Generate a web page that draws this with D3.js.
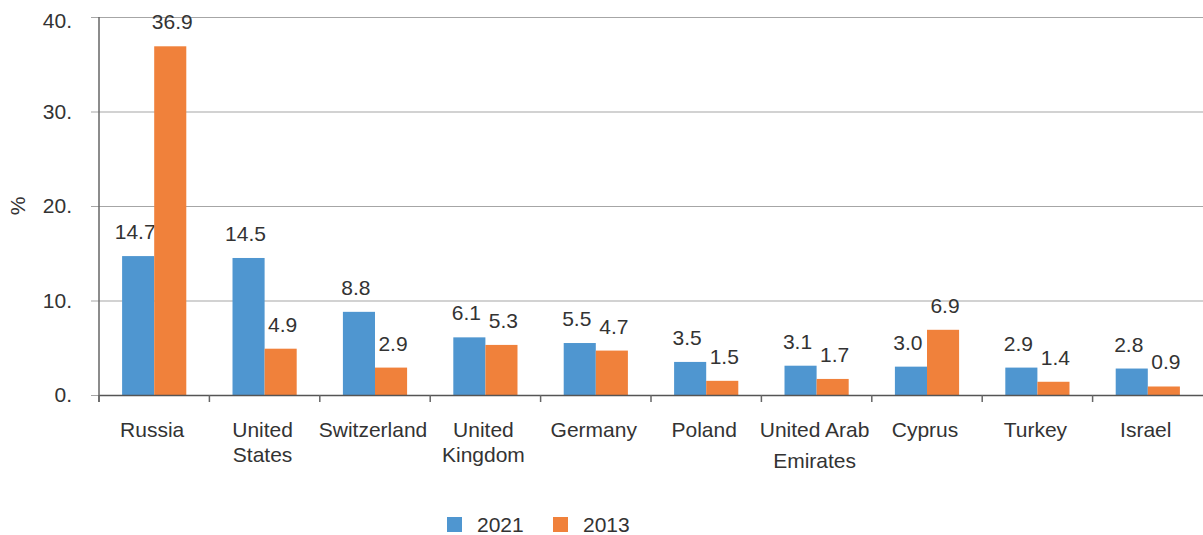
<!DOCTYPE html>
<html>
<head>
<meta charset="utf-8">
<script src="https://cdn.jsdelivr.net/npm/d3@7"></script>
<style>
  body { margin: 0; background: #fff; }
  svg { display: block; font-family: "Liberation Sans", Arial, sans-serif; }
</style>
</head>
<body>
<svg width="1203" height="535"></svg>
<script>
const width = 1203;
const height = 535;

// data
const countries = [
  ["Russia"], ["United", "States"], ["Switzerland"], ["United", "Kingdom"], ["Germany"],
  ["Poland"], ["United Arab", "Emirates"], ["Cyprus"], ["Turkey"], ["Israel"]
];
const values2021 = [14.7, 14.5, 8.8, 6.1, 5.5, 3.5, 3.1, 3.0, 2.9, 2.8];
const values2013 = [36.9, 4.9, 2.9, 5.3, 4.7, 1.5, 1.7, 6.9, 1.4, 0.9];
const seriesNames = ["2021", "2013"];
const yTicks = [0, 10, 20, 30, 40];
const colors = ["#4f96d0", "#f0813b"];

const margin = { top: 17, right: 0, bottom: 140, left: 99 };
const svg = d3.select('svg');
const textColor = '#333';
const fontSize = 21;

function label(parent, x, y, str, anchor) {
  return parent.append('text')
    .attr('x', x)
    .attr('y', y)
    .attr('text-anchor', anchor || 'middle')
    .attr('font-size', fontSize)
    .attr('fill', textColor)
    .text(str);
}

const names = countries.map(d => d.join(' '));

const xScale = d3.scaleBand()
  .domain(names)
  .range([margin.left, width - margin.right])
  .padding(0);

const yScale = d3.scaleLinear()
  .domain([0, 40])
  .range([height - margin.bottom, margin.top]);

const inner = d3.scaleBand()
  .domain(seriesNames)
  .range([0, xScale.bandwidth()])
  .paddingInner(0)
  .paddingOuter(0.72);

// gridlines
const yAxis = d3.axisLeft(yScale)
  .tickValues(yTicks)
  .tickSize(-(width - margin.left - margin.right))
  .tickFormat('');

const gy = svg.append('g')
  .attr('transform', `translate(${margin.left},0)`)
  .call(yAxis);
gy.select('.domain').remove();
gy.selectAll('.tick line')
  .attr('stroke', '#a6a6a6')
  .attr('x1', -8)
  .attr('stroke-width', 1.2);

// y tick labels
const yLabels = svg.append('g');
yTicks.forEach(t => label(yLabels, margin.left - 27, Math.max(yScale(t), 21) + 7, t + '.', 'end'));

// vertical axis line
svg.append('line')
  .attr('x1', margin.left).attr('x2', margin.left)
  .attr('y1', yScale(40)).attr('y2', yScale(0) + 7)
  .attr('stroke', '#666').attr('stroke-width', 1.5);

// bars and value labels
const series = [values2021, values2013];
const labelShift = [-3, 2];
series.forEach((vals, si) => {
  svg.append('g').selectAll('rect')
    .data(vals)
    .enter().append('rect')
    .attr('x', (d, i) => xScale(names[i]) + inner(seriesNames[si]))
    .attr('y', d => yScale(d))
    .attr('width', inner.bandwidth())
    .attr('height', d => yScale(0) - yScale(d))
    .attr('fill', colors[si]);

  const vg = svg.append('g');
  vals.forEach((d, i) => {
    label(vg, xScale(names[i]) + inner(seriesNames[si]) + inner.bandwidth() / 2 + labelShift[si],
      yScale(d) - 17, d.toFixed(1));
  });
});

// x axis
const xAxis = d3.axisBottom(xScale).tickSize(0).tickFormat('');
const gx = svg.append('g')
  .attr('transform', `translate(0,${yScale(0)})`)
  .call(xAxis);
gx.select('.domain').attr('stroke', '#555').attr('stroke-width', 1.5);

// boundary ticks between categories
svg.append('g').selectAll('line')
  .data(names)
  .enter().append('line')
  .attr('x1', d => xScale(d)).attr('x2', d => xScale(d))
  .attr('y1', yScale(0)).attr('y2', yScale(0) + 7)
  .attr('stroke', '#666').attr('stroke-width', 1.5);

// category labels
const catG = svg.append('g');
countries.forEach((lines, i) => {
  const cx = xScale(names[i]) + xScale.bandwidth() / 2 - 2;
  const step = lines[0] === 'United Arab' ? 31 : 25;
  lines.forEach((line, j) => label(catG, cx, yScale(0) + 42 + j * step, line));
});

// y label
svg.append('text')
  .attr('transform', `translate(25,${yScale(20)}) rotate(-90)`)
  .attr('text-anchor', 'middle')
  .attr('font-size', fontSize)
  .attr('fill', textColor)
  .text('%');

// legend
const legend = svg.append('g').attr('transform', 'translate(447,517)');
const legendX = [0, 106];
seriesNames.forEach((name, i) => {
  const g = legend.append('g').attr('transform', `translate(${legendX[i]},0)`);
  g.append('rect').attr('width', 15).attr('height', 15).attr('fill', colors[i]);
  label(g, 30, 15, name, 'start');
});
</script>
</body>
</html>
